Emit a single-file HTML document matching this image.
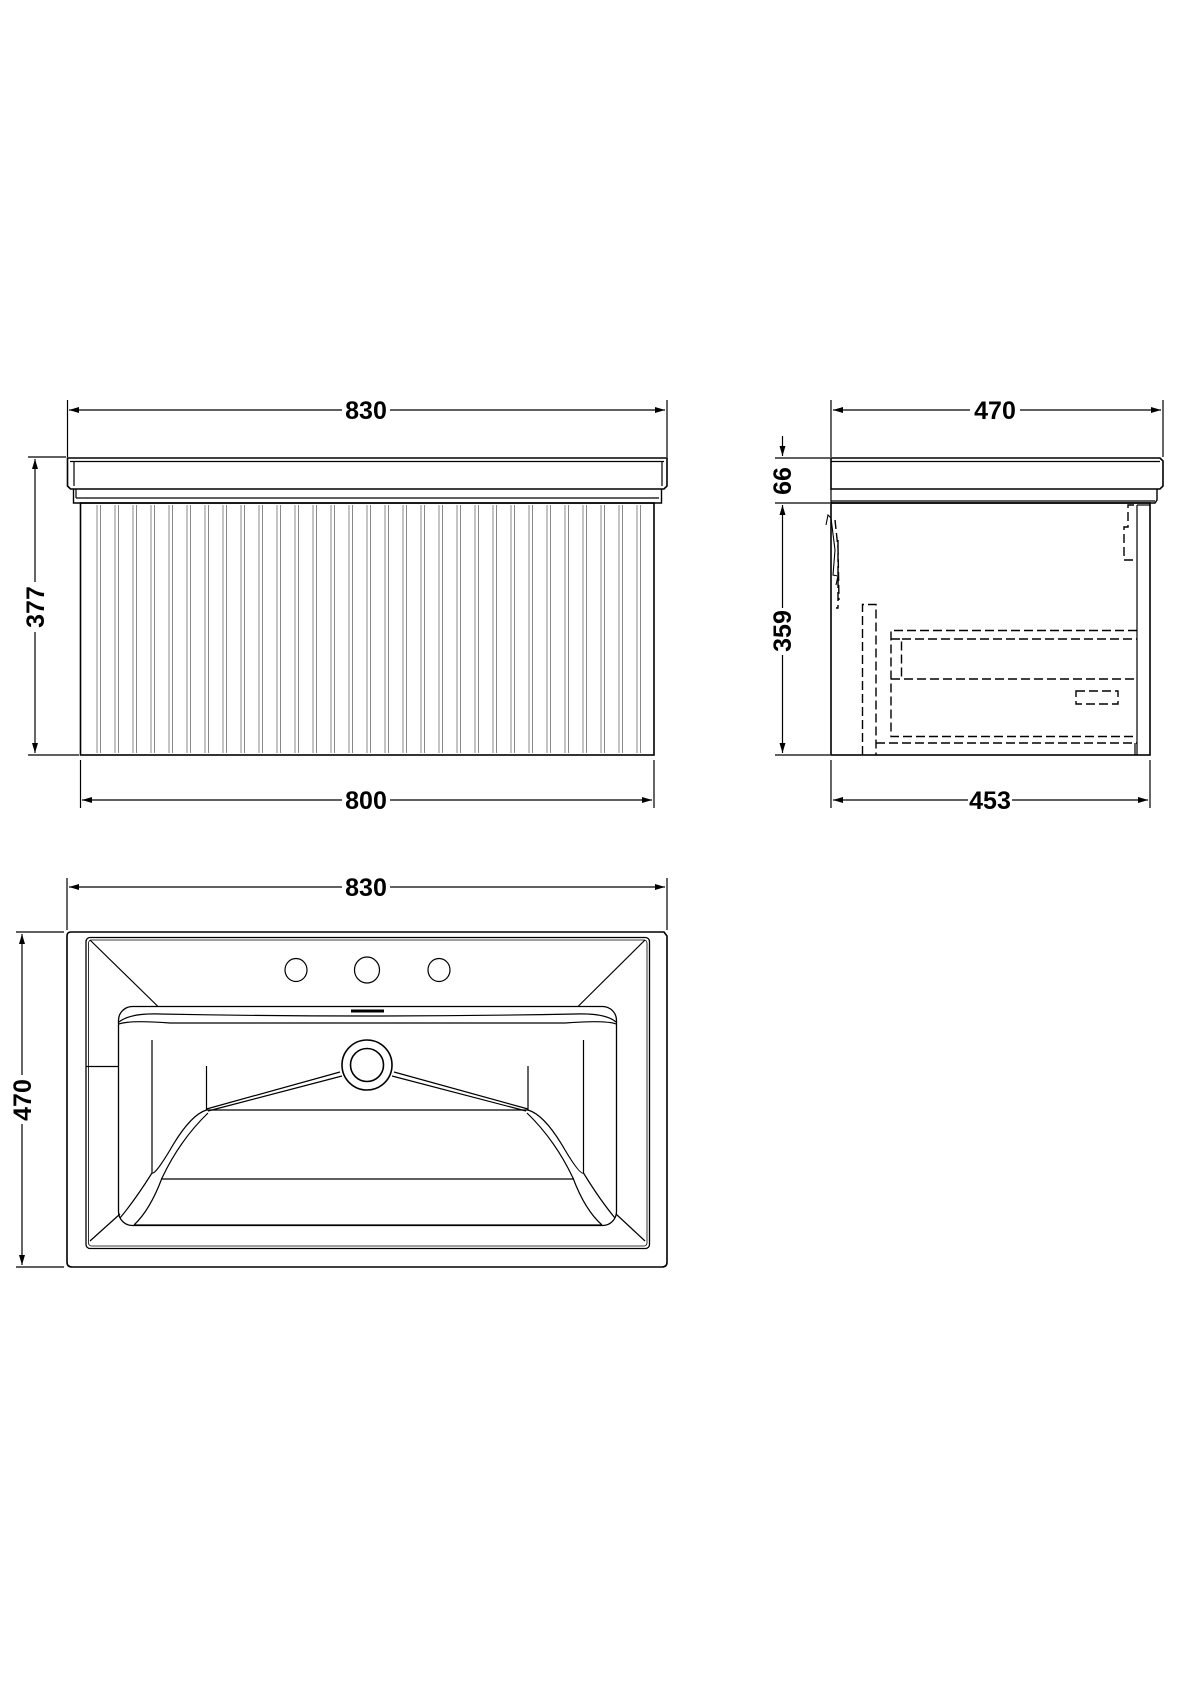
<!DOCTYPE html>
<html><head><meta charset="utf-8"><style>
html,body{margin:0;padding:0;background:#fff}
svg{display:block}
text{font-family:"Liberation Sans",sans-serif;font-weight:bold;font-size:25px;fill:#000}
</style></head><body>
<svg width="1190" height="1684" viewBox="0 0 1190 1684" xmlns="http://www.w3.org/2000/svg">
<defs>
<marker id="a" viewBox="0 0 10 6" refX="10" refY="3" markerWidth="10" markerHeight="6" orient="auto-start-reverse" markerUnits="userSpaceOnUse"><path d="M0,0 L10,3 L0,6 z" fill="#000"/></marker>
</defs>
<g fill="none" stroke="#000" stroke-width="1.2">
<line x1="67.5" y1="400" x2="67.5" y2="457"/><line x1="667" y1="400" x2="667" y2="457"/>
<line x1="69" y1="410" x2="342" y2="410" marker-start="url(#a)"/>
<line x1="390" y1="410" x2="665" y2="410" marker-end="url(#a)"/>
<path d="M67.5,458 H667 V486 L664,489 H70.5 L67.5,486 Z" stroke-width="1.6"/>
<line x1="70" y1="461.5" x2="664" y2="461.5"/>
<line x1="74" y1="462" x2="74" y2="486"/><line x1="662" y1="462" x2="662" y2="486"/>
<path d="M73.5,489 V503 H661.5 V489" stroke-width="1.4"/>
<line x1="76" y1="498" x2="659" y2="498"/>
<line x1="76" y1="489" x2="76" y2="498"/>
<rect x="80.5" y="503" width="573.5" height="252" stroke-width="1.6"/>
<g stroke="#888" stroke-width="1">
<path d="M97,505V753M100.5,505V753M115,505V753M118.5,505V753M133,505V753M136.5,505V753M151,505V753M154.5,505V753M169,505V753M172.5,505V753M187,505V753M190.5,505V753M205,505V753M208.5,505V753M223,505V753M226.5,505V753M241,505V753M244.5,505V753M259,505V753M262.5,505V753M277,505V753M280.5,505V753M295,505V753M298.5,505V753M313,505V753M316.5,505V753M331,505V753M334.5,505V753M349,505V753M352.5,505V753M367,505V753M370.5,505V753M385,505V753M388.5,505V753M403,505V753M406.5,505V753M421,505V753M424.5,505V753M439,505V753M442.5,505V753M457,505V753M460.5,505V753M475,505V753M478.5,505V753M493,505V753M496.5,505V753M511,505V753M514.5,505V753M529,505V753M532.5,505V753M547,505V753M550.5,505V753M565,505V753M568.5,505V753M583,505V753M586.5,505V753M601,505V753M604.5,505V753M619,505V753M622.5,505V753M637,505V753M640.5,505V753"/>
</g>
<line x1="28" y1="457" x2="66" y2="457"/><line x1="28" y1="755" x2="79" y2="755"/>
<line x1="35" y1="459" x2="35" y2="582" marker-start="url(#a)"/>
<line x1="35" y1="632" x2="35" y2="753" marker-end="url(#a)"/>
<line x1="80.5" y1="760" x2="80.5" y2="808"/><line x1="654" y1="760" x2="654" y2="808"/>
<line x1="82" y1="800" x2="342" y2="800" marker-start="url(#a)"/>
<line x1="390" y1="800" x2="652" y2="800" marker-end="url(#a)"/>

<line x1="831" y1="400" x2="831" y2="457"/><line x1="1163" y1="400" x2="1163" y2="457"/>
<line x1="833" y1="410" x2="970" y2="410" marker-start="url(#a)"/>
<line x1="1020" y1="410" x2="1161" y2="410" marker-end="url(#a)"/>
<path d="M831,458 H1160 L1163,461 V486 L1160,489 H831 Z" stroke-width="1.6"/>
<line x1="831" y1="461.5" x2="1160" y2="461.5"/>
<path d="M1157,489 V500 L1155,503 H831" stroke-width="1.4"/>
<line x1="831" y1="489" x2="831" y2="503"/>
<line x1="831" y1="501" x2="1155" y2="501"/>
<rect x="831" y="503" width="319" height="252" stroke-width="1.6"/>
<line x1="1137" y1="505" x2="1137" y2="755"/>
<line x1="1137" y1="505" x2="1150" y2="505"/>
<g stroke-dasharray="9,4" stroke-width="1.4">
<path d="M862.5,755 V604.5 H876 V755"/>
<path d="M1137,630.5 H891 V736.5 H1137"/>
<line x1="902" y1="639" x2="1137" y2="639"/>
<line x1="891" y1="679" x2="1137" y2="679"/>
<path d="M891,639 H901.5 V679"/>
<rect x="1076" y="691" width="42" height="13"/>
<line x1="876" y1="743" x2="1137" y2="743"/>
<path d="M1134,505 H1128 V527 H1124 V560 H1137"/>
<path d="M835,520 L838,548 L839,600 M838,540 V608 H836"/>
</g>
<line x1="1135" y1="743" x2="1135" y2="755"/>
<path d="M826,525 L828,515 L831,518 L835,550 L833,575 L838,576 L836,585" stroke-width="1.1"/>
<line x1="775" y1="458" x2="830" y2="458"/><line x1="775" y1="503" x2="830" y2="503"/>
<line x1="775" y1="755" x2="830" y2="755"/>
<line x1="782.5" y1="436" x2="782.5" y2="456" marker-end="url(#a)"/>
<line x1="782.5" y1="505" x2="782.5" y2="608" marker-start="url(#a)"/>
<line x1="782.5" y1="655" x2="782.5" y2="753" marker-end="url(#a)"/>
<line x1="831" y1="760" x2="831" y2="808"/><line x1="1150" y1="760" x2="1150" y2="808"/>
<line x1="833" y1="800" x2="968" y2="800" marker-start="url(#a)"/>
<line x1="1012" y1="800" x2="1148" y2="800" marker-end="url(#a)"/>

<line x1="67" y1="878" x2="67" y2="930"/><line x1="667" y1="878" x2="667" y2="930"/>
<line x1="69" y1="887" x2="342" y2="887" marker-start="url(#a)"/>
<line x1="390" y1="887" x2="665" y2="887" marker-end="url(#a)"/>
<path d="M71,932 H664 L667,936 V1262 Q667,1267 662,1267 H72 Q67,1267 67,1262 V936 Q67,932 71,932 Z" stroke-width="1.6"/>
<rect x="86" y="937.5" width="563.5" height="311" rx="4" stroke-width="1.3"/>
<rect x="88.5" y="940" width="558.5" height="306" rx="3" stroke-width="0.8"/>
<rect x="118.5" y="1006.5" width="498" height="219" rx="14" stroke-width="1.3"/>
<line x1="90" y1="940" x2="158" y2="1006.5"/>
<line x1="645" y1="940" x2="578" y2="1006.5"/>
<line x1="90" y1="1241" x2="120" y2="1214"/>
<line x1="645" y1="1241" x2="616" y2="1214"/>
<line x1="86" y1="1066.5" x2="119" y2="1066.5"/>
<path d="M119,1022 Q130,1013 160,1014 Q367,1018 575,1014 Q606,1013 616,1022"/>
<path d="M119,1024 Q130,1020 170,1023 H565 Q606,1020 616,1024"/>
<ellipse cx="296" cy="970" rx="11" ry="11.5"/>
<ellipse cx="367" cy="970" rx="12.5" ry="13"/>
<ellipse cx="439" cy="970" rx="11" ry="11.5"/>
<line x1="351" y1="1011" x2="384" y2="1011" stroke-width="3"/>
<circle cx="367" cy="1065" r="25" stroke-width="1.6"/>
<circle cx="367" cy="1065" r="16.5" stroke-width="1.6"/>
<line x1="152" y1="1040" x2="152" y2="1173"/>
<line x1="583.5" y1="1040" x2="583.5" y2="1173"/>
<line x1="206.5" y1="1066" x2="206.5" y2="1110"/>
<line x1="528" y1="1066" x2="528" y2="1110"/>
<line x1="206.5" y1="1110" x2="528" y2="1110"/>
<line x1="161" y1="1179" x2="574" y2="1179"/>
<line x1="134" y1="1225" x2="602" y2="1225"/>
<path d="M340,1072 L206.5,1109 M342,1076 L208,1111"/>
<path d="M394,1072 L528,1109 M392,1076 L526,1111"/>
<path d="M206.5,1110 Q190,1115 170,1150 Q155,1175 152,1173 Q135,1200 120,1218"/>
<path d="M208,1113 Q180,1140 162,1178 Q150,1210 134,1225"/>
<path d="M528,1110 Q545,1115 565,1150 Q580,1175 583.5,1173 Q600,1200 615,1218"/>
<path d="M527,1113 Q555,1140 573,1178 Q585,1210 602,1225"/>
<line x1="16" y1="932" x2="64" y2="932"/><line x1="16" y1="1267" x2="64" y2="1267"/>
<line x1="22" y1="934" x2="22" y2="1075" marker-start="url(#a)"/>
<line x1="22" y1="1124" x2="22" y2="1265" marker-end="url(#a)"/>
</g>
<g>
<text x="366" y="419" text-anchor="middle">830</text>
<text x="366" y="809" text-anchor="middle">800</text>
<text x="995" y="419" text-anchor="middle">470</text>
<text x="990" y="809" text-anchor="middle">453</text>
<text x="366" y="896" text-anchor="middle">830</text>
<text transform="translate(44,607) rotate(-90)" text-anchor="middle">377</text>
<text transform="translate(791,481) rotate(-90)" text-anchor="middle">66</text>
<text transform="translate(791,631) rotate(-90)" text-anchor="middle">359</text>
<text transform="translate(31,1100) rotate(-90)" text-anchor="middle">470</text>
</g>
</svg>
</body></html>
